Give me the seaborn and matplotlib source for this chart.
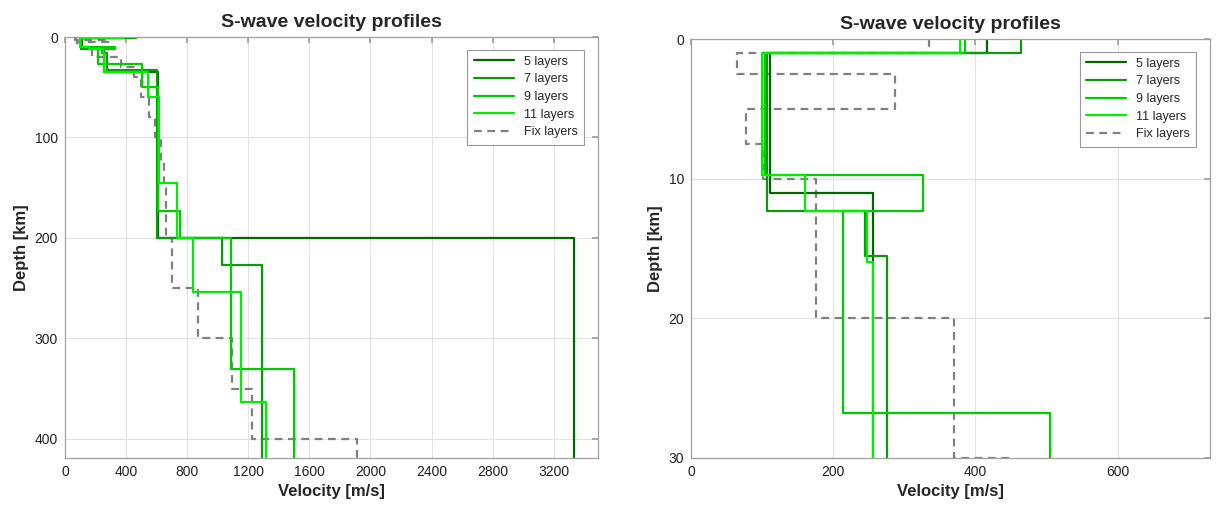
import matplotlib
matplotlib.use("Agg")
import matplotlib.pyplot as plt
import numpy as np
import pandas as pd
import seaborn as sns

# layer tops [km] and S-wave velocities [m/s]; last value is the half-space
tops_5 = [0, 1, 11, 35, 200]
vs_5 = [416, 111, 256, 612, 3330]

tops_7 = [0, 1, 12.3, 15.5, 33, 200, 227]
vs_7 = [464, 107, 245, 275, 600, 1025, 1290]

tops_9 = [0, 1, 9.7, 12.3, 26.8, 50, 173, 200, 330]
vs_9 = [385, 104, 326, 214, 505, 610, 750, 1090, 1500]

tops_11 = [0, 1, 9.7, 12.3, 16, 35, 60, 145, 200, 254, 363]
vs_11 = [378, 100, 160, 248, 256, 545, 615, 735, 840, 1155, 1315]

tops_fix = [0, 1, 2.5, 5, 7.5, 10, 20, 30, 40, 60, 80, 100, 125, 150, 200, 250, 300, 350, 400]
vs_fix = [335, 65, 287, 77, 101, 176, 370, 450, 500, 550, 590, 630, 650, 660, 700, 870, 1095, 1225, 1915]

labels = ["5 layers", "7 layers", "9 layers", "11 layers", "Fix layers"]
colors = ["#006600", "#0d990d", "#00cc00", "#00ee00", "#808080"]

MAX_DEPTH = 420


def profile(tops, vs, bottom=MAX_DEPTH):
    edges = list(tops) + [bottom]
    depth = np.repeat(edges, 2)[1:-1]
    vel = np.repeat(vs, 2)
    return pd.DataFrame({"velocity": vel, "depth": depth})


profiles = [profile(tops_5, vs_5), profile(tops_7, vs_7), profile(tops_9, vs_9),
            profile(tops_11, vs_11), profile(tops_fix, vs_fix)]

sns.set_theme(style="white")
plt.rcParams["font.family"] = ["Liberation Sans", "DejaVu Sans"]

fig = plt.figure(figsize=(12.17, 5.14), dpi=100)
ax1 = fig.add_axes([0.0534, 0.109, 0.438, 0.819])
ax2 = fig.add_axes([0.5678, 0.109, 0.4265, 0.815])


def draw(ax):
    handles = []
    # fixed layers underneath
    order = [4, 0, 1, 2, 3]
    for i in order:
        kw = dict(linestyle=(0, (3.5, 2.5))) if i == 4 else {}
        sns.lineplot(data=profiles[i], x="velocity", y="depth", sort=False,
                     estimator=None, color=colors[i], linewidth=1.6,
                     ax=ax, label=labels[i], **kw)
    h, l = ax.get_legend_handles_labels()
    lookup = dict(zip(l, h))
    leg = ax.legend([lookup[k] for k in labels], labels, loc="upper right",
                    fontsize=9, frameon=True, fancybox=False, framealpha=1,
                    edgecolor="#999999", handlelength=3.2, borderpad=0.5,
                    labelspacing=0.45, bbox_to_anchor=(0.985, 0.985))
    leg.get_frame().set_linewidth(0.8)
    ax.grid(True, color="#e3e3e3", linewidth=0.8)
    ax.set_axisbelow(True)
    for s in ax.spines.values():
        s.set_color("#a0a0a0")
        s.set_linewidth(0.9)
    ax.tick_params(direction="in", length=4, color="#a0a0a0", labelsize=10,
                   labelcolor="#222222", top=True, right=True, pad=5)
    ax.set_xlabel("Velocity [m/s]", fontsize=12, fontweight="bold")
    ax.set_ylabel("Depth [km]", fontsize=12, fontweight="bold")
    ax.set_title("S-wave velocity profiles", fontsize=14, fontweight="bold", pad=7)


draw(ax1)
ax1.set_xlim(0, 3490)
ax1.set_ylim(419, 0)
ax1.set_xticks(np.arange(0, 3201, 400))
ax1.set_yticks(np.arange(0, 401, 100))

draw(ax2)
ax2.set_xlim(0, 730)
ax2.set_ylim(30, 0)
ax2.set_xticks([0, 200, 400, 600])
ax2.set_yticks([0, 10, 20, 30])

fig.savefig("out.png", dpi=100)
